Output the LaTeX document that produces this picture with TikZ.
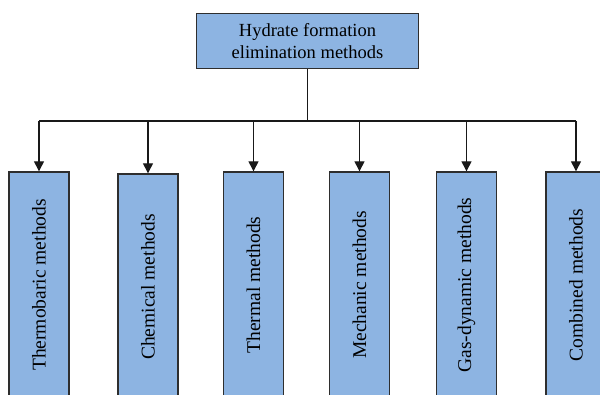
\documentclass[tikz,border=0pt]{standalone}
\usepackage{fontspec}
\setmainfont{Liberation Serif}
\usetikzlibrary{arrows.meta}
\definecolor{boxfill}{HTML}{8DB4E2}
\definecolor{boxline}{HTML}{2E2E2E}
\begin{document}
\begin{tikzpicture}[x=1pt,y=-1pt,
  boxstyle/.style={draw=boxline,fill=boxfill,line width=1.4pt,inner sep=0pt,text=black},
  topbox/.style={boxstyle,minimum width=222pt,minimum height=55pt,align=center,
    font=\fontsize{18.5}{21.5}\selectfont},
  childbox/.style={boxstyle,rotate=90,minimum width=226pt,minimum height=60pt,
    font=\fontsize{19.5}{22}\selectfont},
  conn/.style={draw=black!90,line width=1.4pt},
  arr/.style={conn,-{Triangle[length=10pt,width=10pt]}}]
\useasboundingbox (0,0) rectangle (600,395);
\clip (0,0) rectangle (600,395);
\fill[white] (0,0) rectangle (600,395);
\node[topbox] (top) at (307.5,41) {Hydrate formation\\elimination methods};
\node[childbox] (c1) at (39,285) {Thermobaric methods};
\node[childbox] (c2) at (148,287) {Chemical methods};
\node[childbox] (c3) at (253.5,285) {Thermal methods};
\node[childbox] (c4) at (359.5,285) {Mechanic methods};
\node[childbox] (c5) at (466.5,285) {Gas-dynamic methods};
\node[childbox] (c6) at (576,285) {Combined methods};
\coordinate (bus) at (307.5,121);
\draw[conn] (top.south) -- (bus);
\draw[conn] (bus -| c1) -- (bus -| c6);
\foreach \c in {c1,c2,c3,c4,c5,c6}
  \draw[arr] (bus -| \c) -- (\c.east);
\end{tikzpicture}
\end{document}
